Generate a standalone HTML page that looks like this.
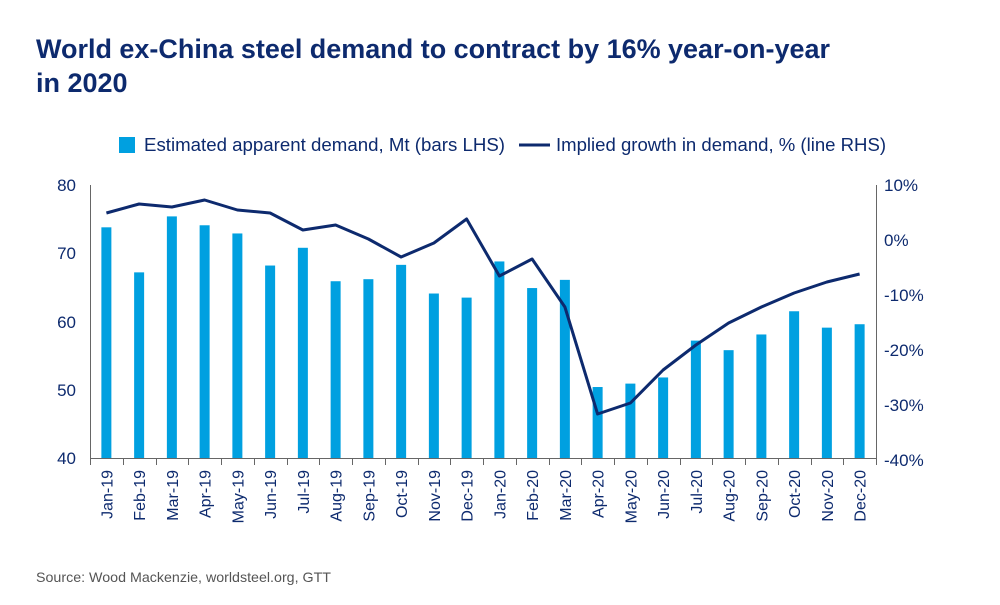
<!DOCTYPE html>
<html><head><meta charset="utf-8"><style>
body{margin:0;background:#fff;font-family:"Liberation Sans",sans-serif;}
</style></head><body>
<svg width="1000" height="600" xmlns="http://www.w3.org/2000/svg" font-family="Liberation Sans, sans-serif">
<text x="36" y="58" font-size="27" font-weight="bold" fill="#0d2a6e" textLength="794" lengthAdjust="spacingAndGlyphs">World ex-China steel demand to contract by 16% year-on-year</text>
<text x="36" y="92" font-size="27" font-weight="bold" fill="#0d2a6e">in 2020</text>
<rect x="119" y="137" width="16" height="16" fill="#00a0e0"/>
<text x="144" y="151" font-size="18" fill="#0d2a6e" textLength="361" lengthAdjust="spacingAndGlyphs">Estimated apparent demand, Mt (bars LHS)</text>
<line x1="519" y1="145" x2="550" y2="145" stroke="#0d2a6e" stroke-width="3"/>
<text x="556" y="151" font-size="18" fill="#0d2a6e" textLength="330" lengthAdjust="spacingAndGlyphs">Implied growth in demand, % (line RHS)</text>
<g font-size="17" fill="#0d2a6e" text-anchor="end">
<text x="76" y="191">80</text><text x="76" y="259">70</text><text x="76" y="328">60</text><text x="76" y="396">50</text><text x="76" y="464">40</text>
</g>
<g font-size="17" fill="#0d2a6e" text-anchor="start">
<text x="884" y="191">10%</text><text x="884" y="246">0%</text><text x="884" y="301">-10%</text><text x="884" y="356">-20%</text><text x="884" y="411">-30%</text><text x="884" y="466">-40%</text>
</g>
<g id="bars" fill="#00a0e0"></g>
<g id="ticks" stroke="#666" stroke-width="1"></g>
<line x1="90.5" y1="185" x2="90.5" y2="459" stroke="#666"/>
<line x1="876.5" y1="185" x2="876.5" y2="459" stroke="#666"/>
<line x1="90" y1="458.5" x2="877" y2="458.5" stroke="#666"/>
<polyline id="ln" fill="none" stroke="#0d2a6e" stroke-width="3" stroke-linejoin="round"/>
<g id="labs" font-size="16" fill="#0d2a6e"></g>
<text x="36" y="582" font-size="14" fill="#555" textLength="295" lengthAdjust="spacingAndGlyphs">Source: Wood Mackenzie, worldsteel.org, GTT</text>
</svg>
<script>
var v=[73.8,67.2,75.4,74.1,72.9,68.2,70.8,65.9,66.2,68.3,64.1,63.5,68.8,64.9,66.1,50.4,50.9,51.8,57.2,55.8,58.1,61.5,59.1,59.6];
var ly=[213,204,207,200,210,213,230,225,239,257,243,219,276,259,307,414,403,370,345,323,307,293,282,274];
var lb=["Jan-19","Feb-19","Mar-19","Apr-19","May-19","Jun-19","Jul-19","Aug-19","Sep-19","Oct-19","Nov-19","Dec-19","Jan-20","Feb-20","Mar-20","Apr-20","May-20","Jun-20","Jul-20","Aug-20","Sep-20","Oct-20","Nov-20","Dec-20"];
var ns="http://www.w3.org/2000/svg",w=786/24,B=document.getElementById('bars'),T=document.getElementById('ticks'),L=document.getElementById('labs'),pts=[];
for(var i=0;i<24;i++){var c=90+w*(i+0.5),y=458-(v[i]-40)*6.825;
var r=document.createElementNS(ns,'rect');r.setAttribute('x',c-5);r.setAttribute('y',y);r.setAttribute('width',10);r.setAttribute('height',458-y);B.appendChild(r);
var t=document.createElementNS(ns,'line');var tx=Math.round(90+w*i)+0.5;t.setAttribute('x1',tx);t.setAttribute('x2',tx);t.setAttribute('y1',458);t.setAttribute('y2',465);T.appendChild(t);
pts.push(c.toFixed(1)+','+ly[i]);
var s=document.createElementNS(ns,'text');s.setAttribute('transform','translate('+(c+6)+',470) rotate(-90)');s.setAttribute('text-anchor','end');s.textContent=lb[i];L.appendChild(s);}
var t=document.createElementNS(ns,'line');t.setAttribute('x1',876.5);t.setAttribute('x2',876.5);t.setAttribute('y1',458);t.setAttribute('y2',465);T.appendChild(t);
document.getElementById('ln').setAttribute('points',pts.join(' '));
</script>
</body></html>
